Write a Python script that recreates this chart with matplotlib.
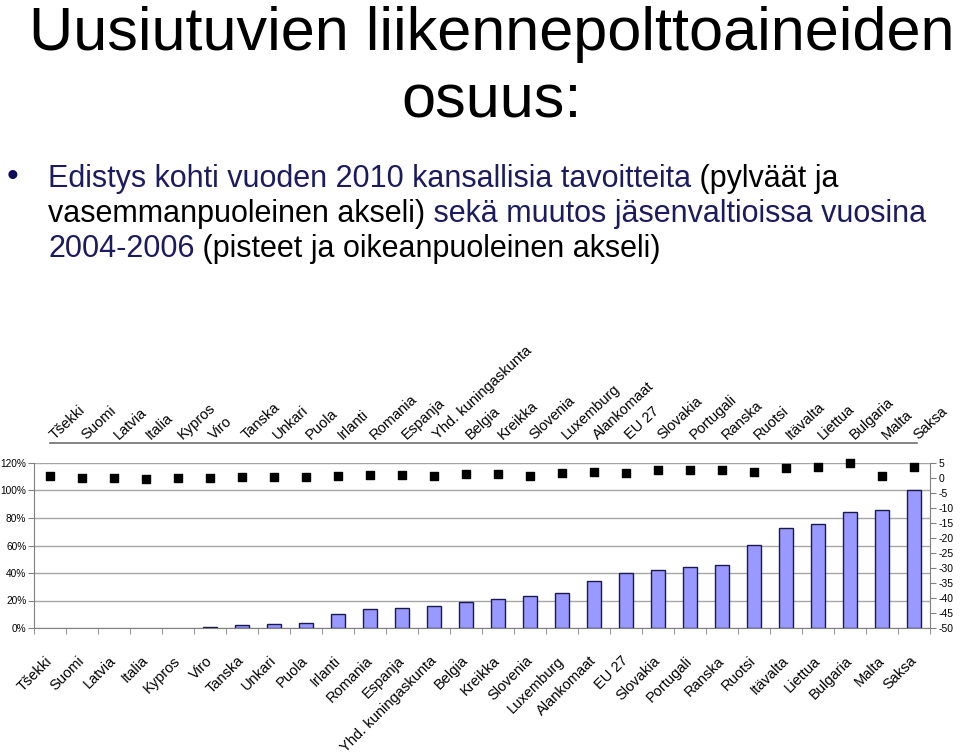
import numpy as np
import matplotlib
matplotlib.use('Agg')
import matplotlib.pyplot as plt
import matplotlib.transforms as mtransforms

plt.rcParams['font.family'] = ['Liberation Sans', 'DejaVu Sans']

# data
countries = ['Tšekki', 'Suomi', 'Latvia', 'Italia', 'Kypros', 'Viro', 'Tanska', 'Unkari',
             'Puola', 'Irlanti', 'Romania', 'Espanja', 'Yhd. kuningaskunta', 'Belgia',
             'Kreikka', 'Slovenia', 'Luxemburg', 'Alankomaat', 'EU 27', 'Slovakia',
             'Portugali', 'Ranska', 'Ruotsi', 'Itävalta', 'Liettua', 'Bulgaria', 'Malta', 'Saksa']
# progress towards 2010 target (%), left axis
progress = [0, 0, 0, 0, 0, 1.0, 2.4, 3.1, 3.9, 10.4, 13.6, 14.3, 16.2, 18.7, 20.9, 23.5,
            25.2, 34.4, 39.8, 42.4, 44.1, 45.6, 60.6, 72.9, 75.6, 84.4, 86.0, 100.0]
# change 2004-2006, right axis
change = [0.8, 0.1, 0.1, -0.2, 0.1, 0.1, 0.4, 0.4, 0.4, 0.8, 1.0, 1.0, 0.7, 1.3, 1.3, 0.8,
          1.55, 2.1, 1.55, 2.8, 2.8, 2.8, 1.9, 3.4, 3.7, 4.9, 0.8, 3.7]
left_ticks = [0, 20, 40, 60, 80, 100, 120]
right_ticks = list(range(-50, 10, 5))

navy = '#1b1b5e'

fig = plt.figure(figsize=(9.6, 7.54), dpi=100)
W, H = 960, 754

def fx(px):
    return px / W

def fy(py):
    return 1 - py / H

# title
fig.text(fx(492), fy(50), 'Uusiutuvien liikennepolttoaineiden', ha='center', va='baseline',
         fontsize=44, color='black')
fig.text(fx(492), fy(117), 'osuus:', ha='center', va='baseline', fontsize=44, color='black')

# bullet text with mixed colours
fig.text(fx(13), fy(186), '•', ha='center', va='baseline', fontsize=24, color='#0d0d5a')
lines = [
    [('Edistys kohti vuoden 2010 kansallisia tavoitteita', navy), (' (pylväät ja', 'black')],
    [('vasemmanpuoleinen akseli)', 'black'), (' sekä muutos jäsenvaltioissa vuosina', navy)],
    [('2004-2006', navy), (' (pisteet ja oikeanpuoleinen akseli)', 'black')],
]
baselines = [187, 222, 257]
for parts, yb in zip(lines, baselines):
    prev = None
    for txt, col in parts:
        if prev is None:
            prev = fig.text(fx(48), fy(yb), txt, ha='left', va='baseline', fontsize=22,
                            color=col)
        else:
            prev = fig.add_artist(plt.Annotation(txt, xy=(1, 0), xycoords=prev, ha='left',
                                                 va='bottom', fontsize=22, color=col))

# chart
ax = fig.add_axes([fx(34), fy(628), (930 - 34) / W, (628 - 463) / H])
x = np.arange(len(countries))
edge_w = [1 if v > 0 else 0 for v in progress]
ax.bar(x, progress, width=0.42, color='#9999ff', edgecolor='#1a1a4d', linewidth=edge_w,
       zorder=3)
ax.set_xlim(-0.5, len(countries) - 0.5)
ax.set_ylim(0, 120)
ax.set_yticks(left_ticks)
ax.set_yticklabels([f'{v}%' for v in left_ticks], fontsize=7.3)
ax.yaxis.grid(True, color='#a6a6a6', linewidth=1, zorder=0)
ax.tick_params(axis='y', length=4, color='#808080', pad=1.5)

ax.set_xticks(x)
ax.set_xticklabels(countries, rotation=45, ha='right', va='center', rotation_mode='anchor',
                   fontsize=10.5)
ax.tick_params(axis='x', which='major', length=0, pad=22)
ax.set_xticks(np.arange(-0.5, len(countries), 1), minor=True)
ax.tick_params(axis='x', which='minor', length=4, color='#808080')

for s in ['top', 'right']:
    ax.spines[s].set_visible(False)
for s in ['left', 'bottom']:
    ax.spines[s].set_color('#808080')

ax2 = ax.twinx()
ax2.scatter(x, change, marker='s', s=38, color='black', zorder=4, clip_on=False)
ax2.set_ylim(-50, 5)
ax2.set_yticks(right_ticks)
ax2.set_yticklabels([str(v) for v in right_ticks], fontsize=7.5)
ax2.tick_params(axis='y', length=4, color='#808080', pad=2)
for s in ['top', 'left', 'bottom']:
    ax2.spines[s].set_visible(False)
ax2.spines['right'].set_color('#808080')

# secondary category axis above the plot
trans = mtransforms.blended_transform_factory(ax.transData, ax.transAxes)
top_y = (628 - 443) / (628 - 463)
ax.plot([0, 27.1], [top_y, top_y], color='#707070', linewidth=1.2, transform=trans,
        clip_on=False)
for i, name in enumerate(countries):
    ax.text(i + 0.2, top_y + 0.005, name, transform=trans, ha='left', va='bottom',
            rotation=43, rotation_mode='anchor', fontsize=10.5)

fig.savefig('out.png', dpi=100)
